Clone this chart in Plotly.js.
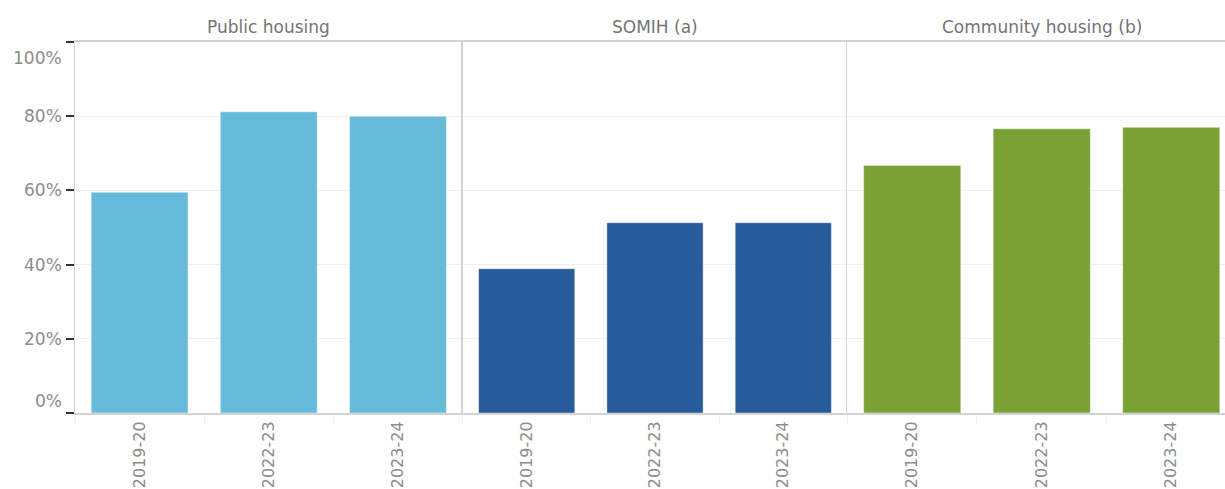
<!DOCTYPE html>
<html>
<head>
<meta charset="utf-8">
<script src="https://cdn.plot.ly/plotly-3.0.1.min.js"></script>
<style>html,body{margin:0;padding:0;background:#fff;}#chart{width:1225px;height:489px;}</style>
</head>
<body>
<div id="chart"></div>
<script>
const groups = ['Public housing', 'SOMIH (a)', 'Community housing (b)'];
const years = ['2019-20', '2022-23', '2023-24'];
const publicHousing = [59.5, 81.2, 80.0];
const somih = [38.9, 51.3, 51.3];
const communityHousing = [66.7, 76.6, 77.0];
const seriesValues = [publicHousing, somih, communityHousing];
const colors = ['#66BBDA', '#285B99', '#79A133'];
const yTicks = [0, 20, 40, 60, 80, 100];
const yTickLabels = ['0%', '20%', '40%', '60%', '80%', '100%'];

const FONT = 'DejaVu Sans';
const axisSuffix = ['', '2', '3'];

const traces = groups.map((g, i) => ({
  type: 'bar',
  name: g,
  x: years,
  y: seriesValues[i],
  xaxis: 'x' + axisSuffix[i],
  yaxis: 'y' + axisSuffix[i],
  width: 0.75,
  marker: {color: colors[i], line: {color: 'rgba(255,255,255,0.45)', width: 1}},
  hoverinfo: 'none'
}));

const lineColor = '#d3d3d3';
const domains = [[0, 0.337], [0.337, 0.6717], [0.6717, 1]];
const xRanges = [[-0.5, 2.5], [-0.5, 2.5], [-0.5, 2.415]];

const layout = {
  width: 1225, height: 489,
  margin: {l: 75, r: 0, t: 42, b: 76},
  paper_bgcolor: '#fff', plot_bgcolor: '#fff',
  showlegend: false,
  bargap: 0.25,
  font: {family: FONT, color: '#888'},
  annotations: [],
  shapes: []
};

groups.forEach((g, i) => {
  const s = axisSuffix[i];
  layout['xaxis' + s] = {
    domain: domains[i],
    anchor: 'y' + s,
    type: 'category',
    range: xRanges[i],
    showline: true, linecolor: lineColor, linewidth: 2, mirror: true,
    showgrid: false, zeroline: false,
    ticks: 'outside', tickson: 'boundaries', ticklen: 8, tickcolor: '#efefef', tickwidth: 1,
    tickangle: -90,
    tickfont: {family: FONT, size: 16, color: '#8c8c8c'},
    fixedrange: true
  };
  layout['yaxis' + s] = {
    anchor: 'x' + s,
    range: [0, 100],
    showline: true, linecolor: lineColor, linewidth: 1.5,
    showgrid: true, gridcolor: '#f0f0f0', gridwidth: 1,
    zeroline: false,
    tickvals: i === 0 ? yTicks : yTicks.slice(1, 5),
    ticks: i === 0 ? 'outside' : '',
    ticklen: 8, tickwidth: 2, tickcolor: '#333',
    showticklabels: false,
    fixedrange: true
  };
  layout.annotations.push({
    xref: 'x' + s, yref: 'paper',
    x: years[1], y: 1,
    xanchor: 'center', yanchor: 'bottom', yshift: 3,
    text: g, showarrow: false,
    font: {family: FONT, size: 17, color: '#747474'}
  });
});

yTicks.forEach((v, k) => {
  let yanchor = 'middle', yshift = 0;
  if (k === 0) { yanchor = 'bottom'; }
  if (k === yTicks.length - 1) { yanchor = 'top'; yshift = -4; }
  layout.annotations.push({
    xref: 'paper', yref: 'y',
    x: 0, y: v,
    xanchor: 'right', yanchor: yanchor, xshift: -11, yshift: yshift,
    text: yTickLabels[k], showarrow: false,
    font: {family: FONT, size: 17, color: '#8c8c8c'}
  });
});

Plotly.newPlot('chart', traces, layout, {displayModeBar: false, staticPlot: true});
</script>
</body>
</html>
